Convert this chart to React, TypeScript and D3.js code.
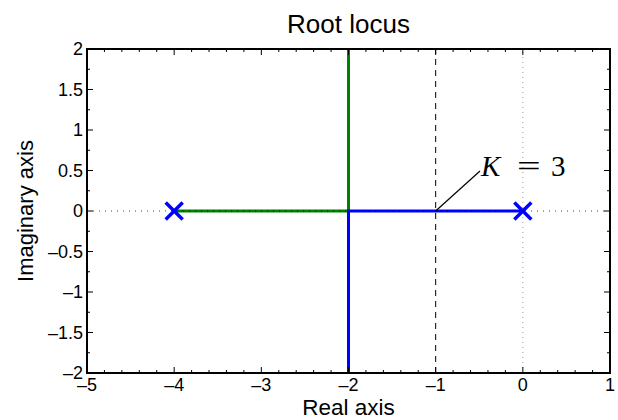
import React from "react";
import * as d3 from "d3";

// Poles of the open-loop system
const poleRe = [-4, 0];
const poleIm = [0, 0];

// Locus branches: each as [re, im] vertex lists
const greenBranchRe = [-4, -2, -2];
const greenBranchIm = [0, 0, 2];
const blueBranchRe = [0, -2, -2];
const blueBranchIm = [0, 0, -2];

// Gain marker
const gainRe = -1;
const gainLabel = "3";

const xTicks = [-5, -4, -3, -2, -1, 0, 1];
const yTicks = [-2, -1.5, -1, -0.5, 0, 0.5, 1, 1.5, 2];

const W = 618;
const H = 420;
const M = { left: 87, right: 8, top: 49, bottom: 47 };

export default function App() {
  const x = d3.scaleLinear().domain([-5, 1]).range([M.left, W - M.right]);
  const y = d3.scaleLinear().domain([-2, 2]).range([H - M.bottom, M.top]);
  const line = d3
    .line<[number, number]>()
    .x((d) => x(d[0]))
    .y((d) => y(d[1]));

  const greenPts = greenBranchRe.map((r, i) => [r, greenBranchIm[i]] as [number, number]);
  const bluePts = blueBranchRe.map((r, i) => [r, blueBranchIm[i]] as [number, number]);

  const xMinor = d3.range(-5, 1.0001, 0.2).filter((v) => !xTicks.some((t) => Math.abs(t - v) < 1e-6));
  const yMinor = d3.range(-2, 2.0001, 0.25).filter((v) => !yTicks.some((t) => Math.abs(t - v) < 1e-6));

  const x0 = x.range()[0];
  const x1 = x.range()[1];
  const y0 = y.range()[0];
  const y1 = y.range()[1];
  const font = "'Liberation Sans', Arial, Helvetica, sans-serif";
  const serif = "'Liberation Serif', 'Times New Roman', serif";
  const s = 8.5;
  const fmt = (t: number) => (t < 0 ? "\u2013" + Math.abs(t) : String(t));

  return (
    <svg
      width={W}
      height={H}
      style={{ position: "absolute", left: 0, top: 0, background: "#fff" }}
    >
      {/* imaginary-axis guide */}
      <line x1={x(0)} x2={x(0)} y1={y0} y2={y1} stroke="#999" strokeWidth={1} strokeDasharray="1,4" />

      {/* locus branches */}
      <path d={line(greenPts) || ""} fill="none" stroke="#008000" strokeWidth={3} />
      <path d={line(bluePts) || ""} fill="none" stroke="#0000ff" strokeWidth={3} />
      {/* real-axis guide, drawn over the branches */}
      <line x1={x0} x2={x1} y1={y(0)} y2={y(0)} stroke="#000" strokeWidth={1} strokeDasharray="1,5" opacity={0.75} />

      {/* gain line */}
      <line x1={x(gainRe)} x2={x(gainRe)} y1={y0} y2={y1} stroke="#000" strokeWidth={1} strokeDasharray="6,5" />
      <line x1={x(gainRe)} x2={480} y1={y(0)} y2={171} stroke="#000" strokeWidth={1.2} />
      <text x={481} y={176} fontFamily={serif} fontSize={29} fontStyle="italic" fill="#000">
        K
      </text>
      <text
        x={0}
        y={0}
        transform={`translate(517,176) scale(1.45,1)`}
        fontFamily={serif}
        fontSize={29}
        fill="#000"
      >
        =
      </text>
      <text x={551} y={176} fontFamily={serif} fontSize={29} fill="#000">
        {gainLabel}
      </text>

      {/* poles */}
      {poleRe.map((r, i) => (
        <g key={i} transform={`translate(${x(r)},${y(poleIm[i])})`} stroke="#0000ff" strokeWidth={3.5}>
          <line x1={-s} y1={-s} x2={s} y2={s} />
          <line x1={-s} y1={s} x2={s} y2={-s} />
        </g>
      ))}

      {/* ticks */}
      {xTicks.map((t) => (
        <g key={"xt" + t}>
          <line x1={x(t)} x2={x(t)} y1={y0} y2={y0 - 6} stroke="#000" />
          <line x1={x(t)} x2={x(t)} y1={y1} y2={y1 + 6} stroke="#000" />
          <text x={x(t)} y={y0 + 18} textAnchor="middle" fontFamily={font} fontSize={18}>
            {fmt(t)}
          </text>
        </g>
      ))}
      {xMinor.map((t) => (
        <g key={"xm" + t}>
          <line x1={x(t)} x2={x(t)} y1={y0} y2={y0 - 3} stroke="#000" />
          <line x1={x(t)} x2={x(t)} y1={y1} y2={y1 + 3} stroke="#000" />
        </g>
      ))}
      {yTicks.map((t) => (
        <g key={"yt" + t}>
          <line x1={x0} x2={x0 + 6} y1={y(t)} y2={y(t)} stroke="#000" />
          <line x1={x1} x2={x1 - 6} y1={y(t)} y2={y(t)} stroke="#000" />
          <text x={x0 - 4} y={y(t) + 6} textAnchor="end" fontFamily={font} fontSize={18}>
            {fmt(t)}
          </text>
        </g>
      ))}
      {yMinor.map((t) => (
        <g key={"ym" + t}>
          <line x1={x0} x2={x0 + 3} y1={y(t)} y2={y(t)} stroke="#000" />
          <line x1={x1} x2={x1 - 3} y1={y(t)} y2={y(t)} stroke="#000" />
        </g>
      ))}

      {/* frame */}
      <rect x={x0} y={y1} width={x1 - x0} height={y0 - y1} fill="none" stroke="#000" strokeWidth={2} />

      {/* labels */}
      <text x={(x0 + x1) / 2} y={33} textAnchor="middle" fontFamily={font} fontSize={26}>
        Root locus
      </text>
      <text x={(x0 + x1) / 2} y={415} textAnchor="middle" fontFamily={font} fontSize={22.5}>
        Real axis
      </text>
      <text
        transform={`translate(33,${(y0 + y1) / 2}) rotate(-90)`}
        textAnchor="middle"
        fontFamily={font}
        fontSize={22}
      >
        Imaginary axis
      </text>
    </svg>
  );
}
